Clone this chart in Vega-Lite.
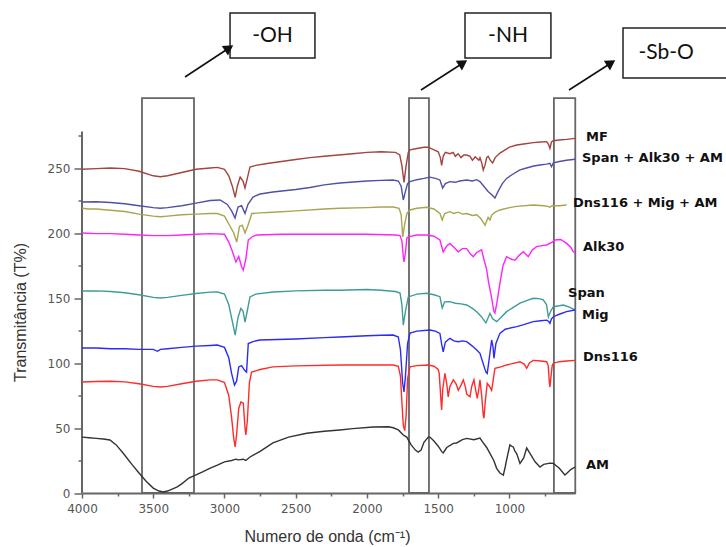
{
  "$schema": "https://vega.github.io/schema/vega-lite/v6.json",
  "autosize": {"type": "none"},
  "width": 493,
  "height": 487.5,
  "padding": {"left": 82, "top": 5.5, "right": 151, "bottom": 54},
  "background": "white",
  "config": {"view": {"stroke": null}, "font": "Liberation Sans"},
  "datasets": {
    "spectra": [
      {"s":"MF","w":4000,"t":249},{"s":"MF","w":3900,"t":249.5},{"s":"MF","w":3800,"t":250},{"s":"MF","w":3700,"t":249.5},{"s":"MF","w":3600,"t":247.5},{"s":"MF","w":3500,"t":244},{"s":"MF","w":3450,"t":243.3},{"s":"MF","w":3400,"t":244},{"s":"MF","w":3300,"t":246.5},{"s":"MF","w":3200,"t":249},{"s":"MF","w":3100,"t":250},{"s":"MF","w":3050,"t":250.5},{"s":"MF","w":3000,"t":249},{"s":"MF","w":2970,"t":244},{"s":"MF","w":2945,"t":236},{"s":"MF","w":2925,"t":227.5},{"s":"MF","w":2910,"t":236},{"s":"MF","w":2890,"t":243},{"s":"MF","w":2870,"t":240},{"s":"MF","w":2856,"t":234.6},{"s":"MF","w":2840,"t":242},{"s":"MF","w":2821,"t":250.8},{"s":"MF","w":2780,"t":252},{"s":"MF","w":2700,"t":253.5},{"s":"MF","w":2600,"t":255},{"s":"MF","w":2500,"t":256.5},{"s":"MF","w":2400,"t":258},{"s":"MF","w":2300,"t":259},{"s":"MF","w":2200,"t":260},{"s":"MF","w":2100,"t":261},{"s":"MF","w":2000,"t":262},{"s":"MF","w":1900,"t":262.5},{"s":"MF","w":1800,"t":262},{"s":"MF","w":1770,"t":260},{"s":"MF","w":1755,"t":252},{"s":"MF","w":1740,"t":239},{"s":"MF","w":1725,"t":252},{"s":"MF","w":1710,"t":262},{"s":"MF","w":1698,"t":264},{"s":"MF","w":1650,"t":265},{"s":"MF","w":1600,"t":266},{"s":"MF","w":1570,"t":266},{"s":"MF","w":1530,"t":264},{"s":"MF","w":1500,"t":262.5},{"s":"MF","w":1485,"t":258},{"s":"MF","w":1476,"t":252},{"s":"MF","w":1465,"t":259},{"s":"MF","w":1450,"t":262},{"s":"MF","w":1418,"t":261},{"s":"MF","w":1395,"t":262},{"s":"MF","w":1380,"t":259},{"s":"MF","w":1360,"t":261},{"s":"MF","w":1340,"t":258},{"s":"MF","w":1320,"t":260},{"s":"MF","w":1300,"t":260},{"s":"MF","w":1277,"t":259},{"s":"MF","w":1260,"t":256},{"s":"MF","w":1240,"t":258.7},{"s":"MF","w":1215,"t":256},{"s":"MF","w":1207,"t":258},{"s":"MF","w":1195,"t":254},{"s":"MF","w":1184,"t":248.5},{"s":"MF","w":1172,"t":252},{"s":"MF","w":1160,"t":258},{"s":"MF","w":1149,"t":259},{"s":"MF","w":1135,"t":256},{"s":"MF","w":1118,"t":253.8},{"s":"MF","w":1100,"t":258},{"s":"MF","w":1067,"t":261.5},{"s":"MF","w":1030,"t":264},{"s":"MF","w":1000,"t":266},{"s":"MF","w":949,"t":267.7},{"s":"MF","w":900,"t":268.5},{"s":"MF","w":833,"t":269.5},{"s":"MF","w":780,"t":270},{"s":"MF","w":739,"t":270.3},{"s":"MF","w":725,"t":268},{"s":"MF","w":716,"t":265},{"s":"MF","w":705,"t":270},{"s":"MF","w":692,"t":271},{"s":"MF","w":650,"t":271.5},{"s":"MF","w":600,"t":272},{"s":"MF","w":540,"t":272.8},

      {"s":"Span + Alk30 + AM","w":4000,"t":223.8},{"s":"Span + Alk30 + AM","w":3900,"t":224},{"s":"Span + Alk30 + AM","w":3800,"t":223.5},{"s":"Span + Alk30 + AM","w":3700,"t":222.5},{"s":"Span + Alk30 + AM","w":3600,"t":221},{"s":"Span + Alk30 + AM","w":3500,"t":219.5},{"s":"Span + Alk30 + AM","w":3450,"t":219},{"s":"Span + Alk30 + AM","w":3400,"t":219.5},{"s":"Span + Alk30 + AM","w":3300,"t":221},{"s":"Span + Alk30 + AM","w":3200,"t":223},{"s":"Span + Alk30 + AM","w":3100,"t":225},{"s":"Span + Alk30 + AM","w":3031,"t":225.4},{"s":"Span + Alk30 + AM","w":2980,"t":222},{"s":"Span + Alk30 + AM","w":2950,"t":217},{"s":"Span + Alk30 + AM","w":2926,"t":211.5},{"s":"Span + Alk30 + AM","w":2905,"t":220},{"s":"Span + Alk30 + AM","w":2880,"t":221},{"s":"Span + Alk30 + AM","w":2856,"t":215},{"s":"Span + Alk30 + AM","w":2835,"t":222},{"s":"Span + Alk30 + AM","w":2800,"t":227.7},{"s":"Span + Alk30 + AM","w":2750,"t":230},{"s":"Span + Alk30 + AM","w":2660,"t":231.5},{"s":"Span + Alk30 + AM","w":2500,"t":233.5},{"s":"Span + Alk30 + AM","w":2400,"t":235},{"s":"Span + Alk30 + AM","w":2300,"t":237},{"s":"Span + Alk30 + AM","w":2190,"t":238.5},{"s":"Span + Alk30 + AM","w":2000,"t":240},{"s":"Span + Alk30 + AM","w":1900,"t":240.5},{"s":"Span + Alk30 + AM","w":1817,"t":240.8},{"s":"Span + Alk30 + AM","w":1780,"t":240},{"s":"Span + Alk30 + AM","w":1760,"t":236},{"s":"Span + Alk30 + AM","w":1745,"t":225.4},{"s":"Span + Alk30 + AM","w":1730,"t":232},{"s":"Span + Alk30 + AM","w":1715,"t":238},{"s":"Span + Alk30 + AM","w":1698,"t":239.5},{"s":"Span + Alk30 + AM","w":1650,"t":241},{"s":"Span + Alk30 + AM","w":1600,"t":242},{"s":"Span + Alk30 + AM","w":1558,"t":243},{"s":"Span + Alk30 + AM","w":1520,"t":242},{"s":"Span + Alk30 + AM","w":1488,"t":240.8},{"s":"Span + Alk30 + AM","w":1469,"t":234.6},{"s":"Span + Alk30 + AM","w":1450,"t":238},{"s":"Span + Alk30 + AM","w":1418,"t":239.5},{"s":"Span + Alk30 + AM","w":1380,"t":239},{"s":"Span + Alk30 + AM","w":1350,"t":240},{"s":"Span + Alk30 + AM","w":1300,"t":240.8},{"s":"Span + Alk30 + AM","w":1260,"t":240},{"s":"Span + Alk30 + AM","w":1230,"t":241},{"s":"Span + Alk30 + AM","w":1207,"t":239.5},{"s":"Span + Alk30 + AM","w":1180,"t":236},{"s":"Span + Alk30 + AM","w":1150,"t":232},{"s":"Span + Alk30 + AM","w":1120,"t":229},{"s":"Span + Alk30 + AM","w":1102,"t":226.9},{"s":"Span + Alk30 + AM","w":1080,"t":232},{"s":"Span + Alk30 + AM","w":1050,"t":238},{"s":"Span + Alk30 + AM","w":1020,"t":242},{"s":"Span + Alk30 + AM","w":980,"t":245},{"s":"Span + Alk30 + AM","w":926,"t":248.5},{"s":"Span + Alk30 + AM","w":880,"t":250},{"s":"Span + Alk30 + AM","w":830,"t":251.5},{"s":"Span + Alk30 + AM","w":786,"t":252.3},{"s":"Span + Alk30 + AM","w":740,"t":253},{"s":"Span + Alk30 + AM","w":716,"t":253.6},{"s":"Span + Alk30 + AM","w":705,"t":251},{"s":"Span + Alk30 + AM","w":692,"t":254},{"s":"Span + Alk30 + AM","w":650,"t":255},{"s":"Span + Alk30 + AM","w":600,"t":256},{"s":"Span + Alk30 + AM","w":540,"t":256.7},

      {"s":"Dns116 + Mig + AM","w":4000,"t":219},{"s":"Dns116 + Mig + AM","w":3950,"t":218.5},{"s":"Dns116 + Mig + AM","w":3900,"t":218.5},{"s":"Dns116 + Mig + AM","w":3800,"t":217.5},{"s":"Dns116 + Mig + AM","w":3700,"t":216.5},{"s":"Dns116 + Mig + AM","w":3600,"t":214.5},{"s":"Dns116 + Mig + AM","w":3500,"t":213},{"s":"Dns116 + Mig + AM","w":3450,"t":212.5},{"s":"Dns116 + Mig + AM","w":3400,"t":213},{"s":"Dns116 + Mig + AM","w":3300,"t":214},{"s":"Dns116 + Mig + AM","w":3200,"t":214.5},{"s":"Dns116 + Mig + AM","w":3100,"t":215},{"s":"Dns116 + Mig + AM","w":3050,"t":215},{"s":"Dns116 + Mig + AM","w":3000,"t":213},{"s":"Dns116 + Mig + AM","w":2960,"t":205},{"s":"Dns116 + Mig + AM","w":2935,"t":200},{"s":"Dns116 + Mig + AM","w":2914,"t":193},{"s":"Dns116 + Mig + AM","w":2895,"t":205},{"s":"Dns116 + Mig + AM","w":2875,"t":206},{"s":"Dns116 + Mig + AM","w":2856,"t":200},{"s":"Dns116 + Mig + AM","w":2835,"t":206},{"s":"Dns116 + Mig + AM","w":2808,"t":215},{"s":"Dns116 + Mig + AM","w":2750,"t":215.5},{"s":"Dns116 + Mig + AM","w":2660,"t":216},{"s":"Dns116 + Mig + AM","w":2500,"t":217},{"s":"Dns116 + Mig + AM","w":2300,"t":218.5},{"s":"Dns116 + Mig + AM","w":2190,"t":219},{"s":"Dns116 + Mig + AM","w":2000,"t":219.5},{"s":"Dns116 + Mig + AM","w":1900,"t":220},{"s":"Dns116 + Mig + AM","w":1815,"t":220},{"s":"Dns116 + Mig + AM","w":1775,"t":219},{"s":"Dns116 + Mig + AM","w":1760,"t":214},{"s":"Dns116 + Mig + AM","w":1749,"t":197},{"s":"Dns116 + Mig + AM","w":1735,"t":207},{"s":"Dns116 + Mig + AM","w":1720,"t":215},{"s":"Dns116 + Mig + AM","w":1698,"t":217.7},{"s":"Dns116 + Mig + AM","w":1650,"t":219},{"s":"Dns116 + Mig + AM","w":1581,"t":219.8},{"s":"Dns116 + Mig + AM","w":1530,"t":218.5},{"s":"Dns116 + Mig + AM","w":1488,"t":215},{"s":"Dns116 + Mig + AM","w":1472,"t":210},{"s":"Dns116 + Mig + AM","w":1455,"t":215},{"s":"Dns116 + Mig + AM","w":1418,"t":216.4},{"s":"Dns116 + Mig + AM","w":1390,"t":215},{"s":"Dns116 + Mig + AM","w":1360,"t":216},{"s":"Dns116 + Mig + AM","w":1330,"t":214.5},{"s":"Dns116 + Mig + AM","w":1300,"t":215},{"s":"Dns116 + Mig + AM","w":1260,"t":213.5},{"s":"Dns116 + Mig + AM","w":1230,"t":214},{"s":"Dns116 + Mig + AM","w":1200,"t":211},{"s":"Dns116 + Mig + AM","w":1172,"t":206},{"s":"Dns116 + Mig + AM","w":1150,"t":212},{"s":"Dns116 + Mig + AM","w":1137,"t":210},{"s":"Dns116 + Mig + AM","w":1125,"t":213.8},{"s":"Dns116 + Mig + AM","w":1100,"t":216},{"s":"Dns116 + Mig + AM","w":1067,"t":217.7},{"s":"Dns116 + Mig + AM","w":1000,"t":219.5},{"s":"Dns116 + Mig + AM","w":950,"t":220.5},{"s":"Dns116 + Mig + AM","w":833,"t":221.5},{"s":"Dns116 + Mig + AM","w":760,"t":221},{"s":"Dns116 + Mig + AM","w":730,"t":220.5},{"s":"Dns116 + Mig + AM","w":716,"t":219.8},{"s":"Dns116 + Mig + AM","w":700,"t":221},{"s":"Dns116 + Mig + AM","w":650,"t":221},{"s":"Dns116 + Mig + AM","w":599,"t":221.5},

      {"s":"Alk30","w":4000,"t":200},{"s":"Alk30","w":3900,"t":199.5},{"s":"Alk30","w":3800,"t":199.5},{"s":"Alk30","w":3700,"t":199},{"s":"Alk30","w":3600,"t":198.5},{"s":"Alk30","w":3500,"t":198},{"s":"Alk30","w":3400,"t":198},{"s":"Alk30","w":3300,"t":198.5},{"s":"Alk30","w":3200,"t":199},{"s":"Alk30","w":3100,"t":199.5},{"s":"Alk30","w":3000,"t":199},{"s":"Alk30","w":2970,"t":193},{"s":"Alk30","w":2945,"t":186},{"s":"Alk30","w":2920,"t":177.7},{"s":"Alk30","w":2900,"t":182},{"s":"Alk30","w":2880,"t":174},{"s":"Alk30","w":2868,"t":171.5},{"s":"Alk30","w":2850,"t":180},{"s":"Alk30","w":2833,"t":194.6},{"s":"Alk30","w":2800,"t":197.5},{"s":"Alk30","w":2774,"t":198.5},{"s":"Alk30","w":2600,"t":199},{"s":"Alk30","w":2400,"t":199},{"s":"Alk30","w":2200,"t":199},{"s":"Alk30","w":2000,"t":199},{"s":"Alk30","w":1800,"t":198.5},{"s":"Alk30","w":1768,"t":198},{"s":"Alk30","w":1755,"t":194},{"s":"Alk30","w":1745,"t":182},{"s":"Alk30","w":1740,"t":177.7},{"s":"Alk30","w":1730,"t":185},{"s":"Alk30","w":1720,"t":196},{"s":"Alk30","w":1710,"t":197},{"s":"Alk30","w":1650,"t":198.5},{"s":"Alk30","w":1581,"t":198.5},{"s":"Alk30","w":1530,"t":197.5},{"s":"Alk30","w":1488,"t":194.6},{"s":"Alk30","w":1465,"t":185.4},{"s":"Alk30","w":1440,"t":190},{"s":"Alk30","w":1418,"t":192},{"s":"Alk30","w":1390,"t":189},{"s":"Alk30","w":1359,"t":185.6},{"s":"Alk30","w":1330,"t":188},{"s":"Alk30","w":1300,"t":188},{"s":"Alk30","w":1275,"t":184},{"s":"Alk30","w":1254,"t":181.8},{"s":"Alk30","w":1230,"t":185},{"s":"Alk30","w":1195,"t":187},{"s":"Alk30","w":1180,"t":180},{"s":"Alk30","w":1160,"t":172},{"s":"Alk30","w":1149,"t":163.8},{"s":"Alk30","w":1125,"t":150},{"s":"Alk30","w":1110,"t":140},{"s":"Alk30","w":1102,"t":138.5},{"s":"Alk30","w":1090,"t":145},{"s":"Alk30","w":1067,"t":161.3},{"s":"Alk30","w":1045,"t":175},{"s":"Alk30","w":1020,"t":181.8},{"s":"Alk30","w":990,"t":180},{"s":"Alk30","w":961,"t":179},{"s":"Alk30","w":930,"t":183},{"s":"Alk30","w":903,"t":185.6},{"s":"Alk30","w":880,"t":183},{"s":"Alk30","w":868,"t":181.8},{"s":"Alk30","w":840,"t":187},{"s":"Alk30","w":809,"t":189.5},{"s":"Alk30","w":760,"t":190.5},{"s":"Alk30","w":739,"t":190.8},{"s":"Alk30","w":700,"t":193},{"s":"Alk30","w":680,"t":194.6},{"s":"Alk30","w":640,"t":195},{"s":"Alk30","w":599,"t":192},{"s":"Alk30","w":570,"t":189},{"s":"Alk30","w":552,"t":185.6},{"s":"Alk30","w":540,"t":185},

      {"s":"Span","w":4000,"t":155.4},{"s":"Span","w":3900,"t":155.5},{"s":"Span","w":3800,"t":155},{"s":"Span","w":3700,"t":154},{"s":"Span","w":3600,"t":152.5},{"s":"Span","w":3500,"t":150.5},{"s":"Span","w":3450,"t":150},{"s":"Span","w":3400,"t":150.5},{"s":"Span","w":3300,"t":152},{"s":"Span","w":3200,"t":153.5},{"s":"Span","w":3100,"t":154.5},{"s":"Span","w":3050,"t":154.6},{"s":"Span","w":3000,"t":153},{"s":"Span","w":2970,"t":145},{"s":"Span","w":2945,"t":132},{"s":"Span","w":2925,"t":121.5},{"s":"Span","w":2905,"t":135},{"s":"Span","w":2885,"t":142},{"s":"Span","w":2870,"t":140},{"s":"Span","w":2856,"t":131.5},{"s":"Span","w":2840,"t":140},{"s":"Span","w":2821,"t":150.8},{"s":"Span","w":2780,"t":153},{"s":"Span","w":2660,"t":154.6},{"s":"Span","w":2500,"t":155.5},{"s":"Span","w":2300,"t":156},{"s":"Span","w":2190,"t":156},{"s":"Span","w":2000,"t":156.5},{"s":"Span","w":1900,"t":156},{"s":"Span","w":1800,"t":155},{"s":"Span","w":1768,"t":153.8},{"s":"Span","w":1755,"t":145},{"s":"Span","w":1745,"t":129.2},{"s":"Span","w":1730,"t":140},{"s":"Span","w":1710,"t":150.8},{"s":"Span","w":1650,"t":153},{"s":"Span","w":1581,"t":153.6},{"s":"Span","w":1530,"t":152.5},{"s":"Span","w":1488,"t":151},{"s":"Span","w":1472,"t":142.3},{"s":"Span","w":1455,"t":147},{"s":"Span","w":1418,"t":147.2},{"s":"Span","w":1380,"t":146},{"s":"Span","w":1340,"t":145.5},{"s":"Span","w":1300,"t":144.6},{"s":"Span","w":1260,"t":142},{"s":"Span","w":1230,"t":139.5},{"s":"Span","w":1200,"t":136},{"s":"Span","w":1165,"t":130.8},{"s":"Span","w":1137,"t":138.2},{"s":"Span","w":1118,"t":134},{"s":"Span","w":1090,"t":131.8},{"s":"Span","w":1060,"t":135},{"s":"Span","w":1020,"t":139.5},{"s":"Span","w":970,"t":143},{"s":"Span","w":926,"t":146},{"s":"Span","w":880,"t":148},{"s":"Span","w":833,"t":149.8},{"s":"Span","w":790,"t":149.5},{"s":"Span","w":763,"t":148.5},{"s":"Span","w":740,"t":145},{"s":"Span","w":727,"t":135.4},{"s":"Span","w":710,"t":140},{"s":"Span","w":692,"t":143.3},{"s":"Span","w":650,"t":144},{"s":"Span","w":622,"t":144.6},{"s":"Span","w":580,"t":143},{"s":"Span","w":540,"t":140.8},

      {"s":"Mig","w":4000,"t":111.5},{"s":"Mig","w":3900,"t":111.5},{"s":"Mig","w":3800,"t":111},{"s":"Mig","w":3700,"t":111},{"s":"Mig","w":3600,"t":110.5},{"s":"Mig","w":3500,"t":110.5},{"s":"Mig","w":3470,"t":109},{"s":"Mig","w":3450,"t":110.5},{"s":"Mig","w":3400,"t":111},{"s":"Mig","w":3300,"t":112},{"s":"Mig","w":3200,"t":113},{"s":"Mig","w":3100,"t":113.5},{"s":"Mig","w":3050,"t":113.8},{"s":"Mig","w":3000,"t":112},{"s":"Mig","w":2970,"t":104},{"s":"Mig","w":2950,"t":92},{"s":"Mig","w":2930,"t":83},{"s":"Mig","w":2915,"t":86},{"s":"Mig","w":2900,"t":97},{"s":"Mig","w":2880,"t":98},{"s":"Mig","w":2860,"t":94.6},{"s":"Mig","w":2845,"t":93},{"s":"Mig","w":2833,"t":115},{"s":"Mig","w":2800,"t":116.5},{"s":"Mig","w":2751,"t":117.7},{"s":"Mig","w":2500,"t":118.5},{"s":"Mig","w":2300,"t":119.5},{"s":"Mig","w":2190,"t":120},{"s":"Mig","w":2000,"t":121},{"s":"Mig","w":1900,"t":121.3},{"s":"Mig","w":1815,"t":121.5},{"s":"Mig","w":1780,"t":120},{"s":"Mig","w":1765,"t":110},{"s":"Mig","w":1750,"t":85},{"s":"Mig","w":1740,"t":77.7},{"s":"Mig","w":1730,"t":90},{"s":"Mig","w":1715,"t":115},{"s":"Mig","w":1698,"t":123},{"s":"Mig","w":1650,"t":124.5},{"s":"Mig","w":1558,"t":125.4},{"s":"Mig","w":1520,"t":124.5},{"s":"Mig","w":1488,"t":122.8},{"s":"Mig","w":1475,"t":114},{"s":"Mig","w":1465,"t":108.5},{"s":"Mig","w":1450,"t":116},{"s":"Mig","w":1418,"t":119},{"s":"Mig","w":1390,"t":117},{"s":"Mig","w":1359,"t":116.4},{"s":"Mig","w":1330,"t":117},{"s":"Mig","w":1300,"t":116.4},{"s":"Mig","w":1260,"t":113},{"s":"Mig","w":1230,"t":110},{"s":"Mig","w":1207,"t":107.4},{"s":"Mig","w":1180,"t":98},{"s":"Mig","w":1165,"t":93},{"s":"Mig","w":1156,"t":92},{"s":"Mig","w":1140,"t":105},{"s":"Mig","w":1125,"t":117.7},{"s":"Mig","w":1115,"t":112},{"s":"Mig","w":1109,"t":103.6},{"s":"Mig","w":1095,"t":115},{"s":"Mig","w":1067,"t":122.8},{"s":"Mig","w":1030,"t":126},{"s":"Mig","w":949,"t":128},{"s":"Mig","w":900,"t":129.5},{"s":"Mig","w":833,"t":131.8},{"s":"Mig","w":780,"t":132.5},{"s":"Mig","w":739,"t":133},{"s":"Mig","w":725,"t":132},{"s":"Mig","w":716,"t":130.5},{"s":"Mig","w":705,"t":134},{"s":"Mig","w":692,"t":135.6},{"s":"Mig","w":650,"t":137.5},{"s":"Mig","w":600,"t":139.5},{"s":"Mig","w":540,"t":140.8},

      {"s":"Dns116","w":4000,"t":85.4},{"s":"Dns116","w":3900,"t":85.8},{"s":"Dns116","w":3800,"t":86},{"s":"Dns116","w":3700,"t":85.5},{"s":"Dns116","w":3600,"t":84},{"s":"Dns116","w":3500,"t":82},{"s":"Dns116","w":3450,"t":81.5},{"s":"Dns116","w":3400,"t":82},{"s":"Dns116","w":3300,"t":84},{"s":"Dns116","w":3200,"t":86},{"s":"Dns116","w":3100,"t":87},{"s":"Dns116","w":3050,"t":87},{"s":"Dns116","w":3000,"t":85},{"s":"Dns116","w":2970,"t":75},{"s":"Dns116","w":2950,"t":58},{"s":"Dns116","w":2935,"t":42},{"s":"Dns116","w":2925,"t":35.4},{"s":"Dns116","w":2915,"t":45},{"s":"Dns116","w":2900,"t":65},{"s":"Dns116","w":2885,"t":70},{"s":"Dns116","w":2868,"t":69},{"s":"Dns116","w":2856,"t":50},{"s":"Dns116","w":2850,"t":44.6},{"s":"Dns116","w":2840,"t":55},{"s":"Dns116","w":2825,"t":85},{"s":"Dns116","w":2810,"t":93},{"s":"Dns116","w":2750,"t":95},{"s":"Dns116","w":2660,"t":97},{"s":"Dns116","w":2500,"t":97.8},{"s":"Dns116","w":2190,"t":98.5},{"s":"Dns116","w":2000,"t":98.5},{"s":"Dns116","w":1815,"t":98.5},{"s":"Dns116","w":1780,"t":97.5},{"s":"Dns116","w":1765,"t":90},{"s":"Dns116","w":1755,"t":70},{"s":"Dns116","w":1745,"t":52},{"s":"Dns116","w":1735,"t":48},{"s":"Dns116","w":1725,"t":60},{"s":"Dns116","w":1715,"t":88},{"s":"Dns116","w":1698,"t":97},{"s":"Dns116","w":1650,"t":98},{"s":"Dns116","w":1570,"t":98.5},{"s":"Dns116","w":1530,"t":97.5},{"s":"Dns116","w":1500,"t":95},{"s":"Dns116","w":1493,"t":92},{"s":"Dns116","w":1480,"t":70},{"s":"Dns116","w":1476,"t":63.8},{"s":"Dns116","w":1468,"t":80},{"s":"Dns116","w":1453,"t":92},{"s":"Dns116","w":1440,"t":84},{"s":"Dns116","w":1430,"t":74},{"s":"Dns116","w":1418,"t":82},{"s":"Dns116","w":1394,"t":87},{"s":"Dns116","w":1375,"t":84},{"s":"Dns116","w":1359,"t":79},{"s":"Dns116","w":1340,"t":83},{"s":"Dns116","w":1324,"t":87},{"s":"Dns116","w":1310,"t":82},{"s":"Dns116","w":1300,"t":76},{"s":"Dns116","w":1277,"t":74},{"s":"Dns116","w":1265,"t":82},{"s":"Dns116","w":1249,"t":87},{"s":"Dns116","w":1235,"t":78},{"s":"Dns116","w":1226,"t":72.8},{"s":"Dns116","w":1215,"t":80},{"s":"Dns116","w":1207,"t":87},{"s":"Dns116","w":1195,"t":75},{"s":"Dns116","w":1184,"t":60},{"s":"Dns116","w":1179,"t":57.5},{"s":"Dns116","w":1170,"t":70},{"s":"Dns116","w":1156,"t":84.4},{"s":"Dns116","w":1140,"t":82},{"s":"Dns116","w":1125,"t":79},{"s":"Dns116","w":1102,"t":95.9},{"s":"Dns116","w":1060,"t":97},{"s":"Dns116","w":1020,"t":98.5},{"s":"Dns116","w":980,"t":99.5},{"s":"Dns116","w":926,"t":101},{"s":"Dns116","w":895,"t":99},{"s":"Dns116","w":879,"t":95.9},{"s":"Dns116","w":860,"t":100},{"s":"Dns116","w":833,"t":102},{"s":"Dns116","w":780,"t":101.5},{"s":"Dns116","w":739,"t":101},{"s":"Dns116","w":728,"t":98},{"s":"Dns116","w":720,"t":85},{"s":"Dns116","w":716,"t":81.5},{"s":"Dns116","w":710,"t":88},{"s":"Dns116","w":700,"t":98},{"s":"Dns116","w":692,"t":99.7},{"s":"Dns116","w":650,"t":101},{"s":"Dns116","w":600,"t":101.5},{"s":"Dns116","w":540,"t":102},

      {"s":"AM","w":4000,"t":43},{"s":"AM","w":3950,"t":42.5},{"s":"AM","w":3900,"t":42},{"s":"AM","w":3850,"t":41.5},{"s":"AM","w":3804,"t":40.8},{"s":"AM","w":3760,"t":37},{"s":"AM","w":3712,"t":30.8},{"s":"AM","w":3650,"t":22},{"s":"AM","w":3600,"t":15.4},{"s":"AM","w":3550,"t":9},{"s":"AM","w":3500,"t":3.8},{"s":"AM","w":3460,"t":1.5},{"s":"AM","w":3430,"t":0.8},{"s":"AM","w":3400,"t":1.5},{"s":"AM","w":3335,"t":4.6},{"s":"AM","w":3300,"t":7},{"s":"AM","w":3250,"t":11.5},{"s":"AM","w":3200,"t":14},{"s":"AM","w":3150,"t":16.5},{"s":"AM","w":3100,"t":19.2},{"s":"AM","w":3050,"t":21.5},{"s":"AM","w":3000,"t":24},{"s":"AM","w":2950,"t":25},{"s":"AM","w":2920,"t":26},{"s":"AM","w":2900,"t":25.5},{"s":"AM","w":2870,"t":26},{"s":"AM","w":2850,"t":25},{"s":"AM","w":2821,"t":27.7},{"s":"AM","w":2750,"t":32},{"s":"AM","w":2660,"t":38.5},{"s":"AM","w":2550,"t":43},{"s":"AM","w":2423,"t":46},{"s":"AM","w":2300,"t":47.5},{"s":"AM","w":2190,"t":48.5},{"s":"AM","w":2100,"t":49.5},{"s":"AM","w":1956,"t":50.8},{"s":"AM","w":1850,"t":51},{"s":"AM","w":1815,"t":50.2},{"s":"AM","w":1780,"t":48.5},{"s":"AM","w":1745,"t":44.6},{"s":"AM","w":1721,"t":43},{"s":"AM","w":1690,"t":37},{"s":"AM","w":1660,"t":33},{"s":"AM","w":1640,"t":31.5},{"s":"AM","w":1620,"t":33},{"s":"AM","w":1600,"t":39},{"s":"AM","w":1570,"t":43},{"s":"AM","w":1558,"t":43},{"s":"AM","w":1530,"t":40},{"s":"AM","w":1500,"t":36},{"s":"AM","w":1475,"t":31.8},{"s":"AM","w":1465,"t":30.8},{"s":"AM","w":1440,"t":35},{"s":"AM","w":1394,"t":38.2},{"s":"AM","w":1371,"t":38.5},{"s":"AM","w":1330,"t":41},{"s":"AM","w":1300,"t":42},{"s":"AM","w":1250,"t":41},{"s":"AM","w":1207,"t":42.3},{"s":"AM","w":1190,"t":39.5},{"s":"AM","w":1160,"t":35},{"s":"AM","w":1137,"t":30.5},{"s":"AM","w":1110,"t":25},{"s":"AM","w":1090,"t":19},{"s":"AM","w":1067,"t":15.4},{"s":"AM","w":1043,"t":13.8},{"s":"AM","w":1030,"t":20},{"s":"AM","w":1020,"t":25.4},{"s":"AM","w":997,"t":36.9},{"s":"AM","w":985,"t":36},{"s":"AM","w":973,"t":35.4},{"s":"AM","w":961,"t":32},{"s":"AM","w":950,"t":30.5},{"s":"AM","w":926,"t":22.8},{"s":"AM","w":900,"t":27},{"s":"AM","w":879,"t":34.6},{"s":"AM","w":856,"t":30.5},{"s":"AM","w":820,"t":24},{"s":"AM","w":786,"t":20},{"s":"AM","w":760,"t":22},{"s":"AM","w":716,"t":23},{"s":"AM","w":692,"t":22.8},{"s":"AM","w":650,"t":19},{"s":"AM","w":611,"t":13.8},{"s":"AM","w":599,"t":15},{"s":"AM","w":570,"t":18},{"s":"AM","w":540,"t":20}
    ],
    "regions": [
      {"w":3579,"w2":3214,"t":0,"t2":303.8},
      {"w":1705,"w2":1565,"t":0,"t2":303.8},
      {"w":688,"w2":538,"t":0,"t2":303.8}
    ],
    "seriesLabels": [
      {"label":"MF","w":463,"t":274},
      {"label":"Span + Alk30 + AM","w":491,"t":257.7},
      {"label":"Dns116 + Mig + AM","w":554,"t":223},
      {"label":"Alk30","w":484,"t":189},
      {"label":"Span","w":589,"t":153.8},
      {"label":"Mig","w":491,"t":137},
      {"label":"Dns116","w":484,"t":104.6},
      {"label":"AM","w":463,"t":21.5}
    ],
    "groupBoxes": [
      {"w":2961,"w2":2365,"t":369.2,"t2":334.6},
      {"w":1312,"w2":709,"t":369.2,"t2":334.6},
      {"w":203,"w2":-560,"t":357.7,"t2":319.2}
    ],
    "groupLabels": [
      {"label":"-OH","w":2663,"t":351.5,"a":"center"},
      {"label":"-NH","w":1010,"t":351.5,"a":"center"},
      {"label":"-Sb-O","w":95,"t":338.5,"a":"left"}
    ],
    "arrows": [
      {"w":3277,"t":320,"w2":2968,"t2":342.3},
      {"w":1621,"t":310,"w2":1326,"t2":330.8},
      {"w":582,"t":310,"w2":287,"t2":330.8}
    ],
    "yAxisLine": [{"w":4000,"t":0,"t2":278}]
  },
  "encoding": {
    "x": {
      "field": "w", "type": "quantitative",
      "scale": {"domain": [540, 4000], "reverse": true, "nice": false, "zero": false},
      "axis": {
        "title": "Numero de onda (cm⁻¹)",
        "titleFont": "Liberation Sans", "titleFontSize": 16, "titleFontWeight": "normal", "titleColor": "#333",
        "titleX": 245, "titleY": 43, "titleBaseline": "middle", "titleAlign": "center",
        "values": [750,1000,1250,1500,1750,2000,2250,2500,2750,3000,3250,3500,3750,4000],
        "labelExpr": "datum.value % 500 === 0 ? datum.label : ''",
        "format": "d",
        "grid": false,
        "domainColor": "#666", "domainWidth": 2,
        "tickColor": "#666", "tickWidth": 1.5,
        "tickSize": {"condition": {"test": "datum.value % 500 !== 0", "value": 3}, "value": 5},
        "labelFont": "DejaVu Sans", "labelFontSize": 12, "labelColor": "#555", "labelPadding": 5, "labelFlush": false, "labelOverlap": false
      }
    },
    "y": {
      "field": "t", "type": "quantitative",
      "scale": {"domain": [0, 375], "nice": false, "zero": false},
      "axis": {
        "title": "Transmitância (T%)",
        "titleFont": "Liberation Sans", "titleFontSize": 16, "titleFontWeight": "normal", "titleColor": "#333",
        "titleX": -62, "titleY": 306.5, "titleAngle": -90, "titleAlign": "center", "titleBaseline": "middle",
        "values": [0,25,50,75,100,125,150,175,200,225,250,275],
        "labelExpr": "datum.value % 50 === 0 ? datum.label : ''",
        "grid": false, "domain": false,
        "tickColor": "#666", "tickWidth": 1.5,
        "tickSize": {"condition": {"test": "datum.value % 50 !== 0", "value": 4}, "value": 8},
        "labelFont": "DejaVu Sans", "labelFontSize": 12, "labelColor": "#555", "labelPadding": 4, "labelOverlap": false
      }
    }
  },
  "layer": [
    {
      "data": {"name": "regions"},
      "mark": {"type": "rect", "fill": null, "fillOpacity": 0, "stroke": "#666", "strokeWidth": 1.8},
      "encoding": {"x2": {"field": "w2"}, "y2": {"field": "t2"}}
    },
    {
      "data": {"name": "yAxisLine"},
      "mark": {"type": "rule", "color": "#666", "strokeWidth": 2},
      "encoding": {"y2": {"field": "t2"}}
    },
    {
      "data": {"name": "spectra"},
      "mark": {"type": "line", "strokeWidth": 1.4, "interpolate": "linear"},
      "encoding": {
        "color": {
          "field": "s", "type": "nominal", "legend": null,
          "scale": {
            "domain": ["MF","Span + Alk30 + AM","Dns116 + Mig + AM","Alk30","Span","Mig","Dns116","AM"],
            "range": ["#a3443f","#5050a8","#a6a550","#ff22ff","#3d9c98","#2b2bf5","#ff2b2b","#333333"]
          }
        }
      }
    },
    {
      "data": {"name": "seriesLabels"},
      "mark": {"type": "text", "align": "left", "baseline": "middle", "font": "DejaVu Sans", "fontSize": 13, "fontWeight": "bold", "color": "#111"},
      "encoding": {"text": {"field": "label"}}
    },
    {
      "data": {"name": "groupBoxes"},
      "mark": {"type": "rect", "fill": "white", "stroke": "#222", "strokeWidth": 1.5},
      "encoding": {"x2": {"field": "w2"}, "y2": {"field": "t2"}}
    },
    {
      "data": {"name": "groupLabels"},
      "transform": [{"filter": "datum.a === 'center'"}],
      "mark": {"type": "text", "align": "center", "baseline": "middle", "font": "Lato", "fontSize": 21, "color": "#111"},
      "encoding": {"text": {"field": "label"}}
    },
    {
      "data": {"name": "groupLabels"},
      "transform": [{"filter": "datum.a === 'left'"}],
      "mark": {"type": "text", "align": "left", "baseline": "middle", "font": "Lato", "fontSize": 21, "color": "#111"},
      "encoding": {"text": {"field": "label"}}
    },
    {
      "data": {"name": "arrows"},
      "mark": {"type": "rule", "color": "#111", "strokeWidth": 1.6},
      "encoding": {"x2": {"field": "w2"}, "y2": {"field": "t2"}}
    },
    {
      "data": {"name": "arrows"},
      "mark": {"type": "point", "shape": "triangle-up", "filled": true, "color": "#111", "size": 130, "angle": 57, "opacity": 1},
      "encoding": {"x": {"field": "w2", "type": "quantitative"}, "y": {"field": "t2", "type": "quantitative"}}
    }
  ]
}
